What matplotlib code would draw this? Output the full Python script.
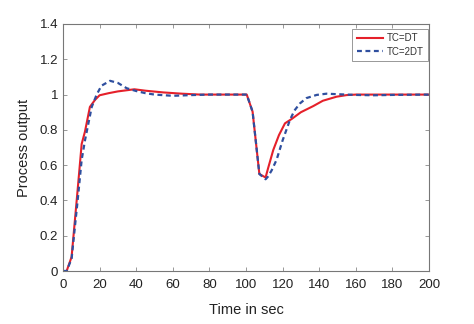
import numpy as np
import matplotlib.pyplot as plt

plt.rcParams['font.family'] = ['Liberation Sans', 'DejaVu Sans']

# closed-loop response, TC = DT
t_dt = [0, 2, 4.7, 8, 10.2, 12, 14.7, 17.5, 20, 25, 30, 39, 45, 55, 65, 75,
        100.4, 103.6, 107.3, 110.7, 112, 114.9, 118, 121.3, 125, 130, 136.8,
        142, 149.5, 155, 160, 200]
y_dt = [0, 0, 0.08, 0.46, 0.72, 0.79, 0.93, 0.97, 0.996, 1.008, 1.018, 1.03,
        1.022, 1.012, 1.005, 1.0,
        1.0, 0.903, 0.55, 0.53, 0.58, 0.686, 0.77, 0.837, 0.862, 0.9, 0.935,
        0.965, 0.988, 0.997, 1.0, 1.0]

# closed-loop response, TC = 2DT
t_2dt = [0, 2, 4.7, 8, 10.2, 12, 15.7, 18.4, 21, 25.7, 30, 34.8, 40, 45, 50,
         60, 70, 80, 100.4, 103.6, 107.3, 110.7, 112, 114, 116.7, 120, 124,
         126.5, 129.5, 133, 138.6, 144, 150, 160, 170, 180, 200]
y_2dt = [0, 0, 0.07, 0.40, 0.63, 0.74, 0.93, 1.0, 1.05, 1.078, 1.066, 1.036,
         1.02, 1.008, 1.0, 0.993, 0.997, 1.0,
         1.0, 0.903, 0.55, 0.52, 0.535, 0.57, 0.63, 0.74, 0.856, 0.91, 0.95,
         0.98, 0.998, 1.005, 1.002, 0.998, 0.996, 0.998, 1.0]

fig = plt.figure(figsize=(4.74, 3.24), dpi=100)
ax = fig.add_axes([63 / 474, 53 / 324, 366 / 474, 247 / 324])

ax.plot(t_dt, y_dt, color='#e5202a', lw=1.5, label='TC=DT')
ax.plot(t_2dt, y_2dt, color='#2f4f9f', lw=1.6, ls=(0, (2.2, 1.6)), label='TC=2DT')

ax.set_xlim(0, 200)
ax.set_ylim(0, 1.4)
ax.set_xticks(np.arange(0, 201, 20))
ax.set_yticks(np.arange(0, 1.41, 0.2))
ax.set_yticklabels(['0', '0.2', '0.4', '0.6', '0.8', '1', '1.2', '1.4'])
ax.tick_params(direction='in', top=True, right=True, length=3, width=0.6,
               color='#888888', labelsize=9.5, labelcolor='#222222')
ax.tick_params(axis='x', pad=6)
ax.tick_params(axis='y', pad=3.5)
for s in ax.spines.values():
    s.set_color('#777777')
    s.set_linewidth(0.8)

ax.set_xlabel('Time in sec', fontsize=10.5, color='#222222', labelpad=8.5)
ax.set_ylabel('Process output', fontsize=10.5, color='#222222', labelpad=6.5)

leg = ax.legend(loc='upper right', fontsize=7, handlelength=2.7,
                handletextpad=0.4, labelspacing=0.35, fancybox=False,
                framealpha=1, borderpad=0.45, borderaxespad=0,
                bbox_to_anchor=(0.997, 0.98))
leg.get_frame().set_edgecolor('#888888')
leg.get_frame().set_linewidth(0.6)
for txt in leg.get_texts():
    txt.set_color('#333333')

fig.savefig('out.png', dpi=100)
